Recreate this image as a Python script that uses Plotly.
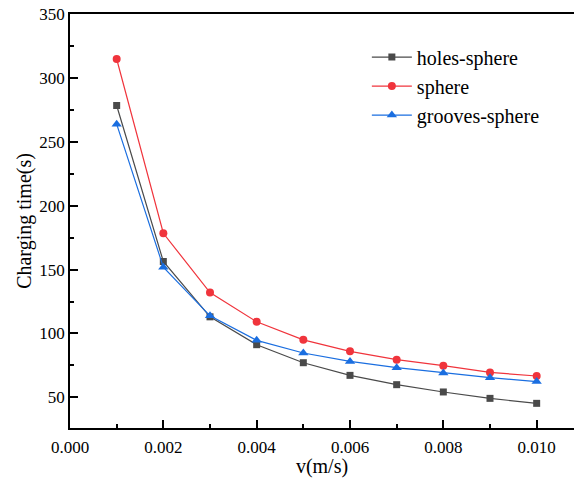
import plotly.graph_objects as go

v = [0.001, 0.002, 0.003, 0.004, 0.005, 0.006, 0.007, 0.008, 0.009, 0.010]
holes_sphere = [278.4, 156.3, 113.0, 91.2, 77.1, 67.2, 59.9, 54.2, 49.2, 45.3]
sphere = [314.8, 178.4, 132.0, 109.1, 95.0, 86.0, 79.5, 74.8, 69.5, 66.7]
grooves_sphere = [263.8, 151.9, 113.8, 94.6, 84.7, 78.1, 73.2, 69.1, 65.4, 62.3]

x_ticks = [0.000, 0.002, 0.004, 0.006, 0.008, 0.010]
x_ticklabels = ["0.000", "0.002", "0.004", "0.006", "0.008", "0.010"]
y_ticks = [50, 100, 150, 200, 250, 300, 350]

font_family = "Liberation Serif"

fig = go.Figure()
fig.add_trace(go.Scatter(x=v, y=holes_sphere, name="holes-sphere", mode="lines+markers",
                         line=dict(color="#4a4a4a", width=1.2),
                         marker=dict(symbol="square", size=7, color="#4a4a4a")))
fig.add_trace(go.Scatter(x=v, y=sphere, name="sphere", mode="lines+markers",
                         line=dict(color="#f0343c", width=1.2),
                         marker=dict(symbol="circle", size=8, color="#f0343c")))
fig.add_trace(go.Scatter(x=v, y=grooves_sphere, name="grooves-sphere", mode="lines+markers",
                         line=dict(color="#1a6ee0", width=1.2),
                         marker=dict(symbol="triangle-up", size=9, color="#1a6ee0")))

fig.update_layout(
    width=574, height=478,
    margin=dict(l=70, r=0, t=14, b=50),
    plot_bgcolor="white", paper_bgcolor="white",
    font=dict(family=font_family, size=17, color="black"),
    legend=dict(x=0.589, y=0.943, xanchor="left", yanchor="top",
                font=dict(family=font_family, size=20, color="black"),
                bgcolor="rgba(0,0,0,0)", tracegroupgap=0, itemwidth=40),
    showlegend=True,
)
fig.update_xaxes(
    range=[0, 0.0108], tickvals=x_ticks, ticktext=x_ticklabels,
    showgrid=False, zeroline=False, showline=True, linecolor="black", linewidth=1.5,
    mirror=True, ticks="inside", ticklen=8, tickwidth=1.5, tickcolor="black",
    ticklabelstandoff=3,
    minor=dict(dtick=0.001, ticks="inside", ticklen=4, tickwidth=1.5, tickcolor="black"),
    title=dict(text="v(m/s)", font=dict(family=font_family, size=20), standoff=4),
    tickfont=dict(family=font_family, size=17),
)
fig.update_yaxes(
    range=[26, 350], tickvals=y_ticks,
    showgrid=False, zeroline=False, showline=True, linecolor="black", linewidth=1.5,
    ticks="inside", ticklen=8, tickwidth=1.5, tickcolor="black",
    minor=dict(dtick=25, tick0=0, ticks="inside", ticklen=4, tickwidth=1.5, tickcolor="black"),
    title=dict(text="Charging time(s)", font=dict(family=font_family, size=20), standoff=2),
    tickfont=dict(family=font_family, size=17),
)

fig.write_html("out.html")
